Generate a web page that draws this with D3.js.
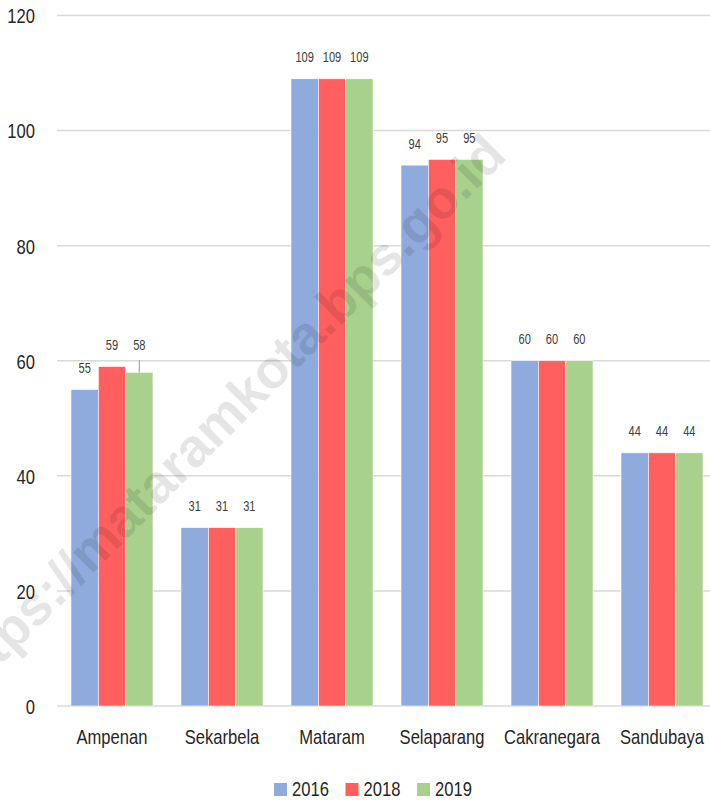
<!DOCTYPE html>
<html>
<head>
<meta charset="utf-8">
<script src="https://cdn.jsdelivr.net/npm/d3@7"></script>
<style>
  html, body { margin: 0; padding: 0; background: #fff; }
  svg { display: block; }
  text { font-family: "Liberation Sans", Arial, sans-serif; fill: #404040; }
</style>
</head>
<body>
<svg id="chart" width="710" height="801"></svg>
<script>
const categories = ["Ampenan", "Sekarbela", "Mataram", "Selaparang", "Cakranegara", "Sandubaya"];
const seriesNames = ["2016", "2018", "2019"];
const values2016 = [55, 31, 109, 94, 60, 44];
const values2018 = [59, 31, 109, 95, 60, 44];
const values2019 = [58, 31, 109, 95, 60, 44];
const seriesColors = ["#8faadc", "#ff5f5f", "#a9d18e"];
const yTicks = [0, 20, 40, 60, 80, 100, 120];
// label raised to avoid overlap: [category index, series index, value level of label]
const raisedLabels = [[0, 2, 59]];
const watermark = "https://mataramkota.bps.go.id";

const seriesValues = [values2016, values2018, values2019];

(function () {
const svg = d3.select("#chart");
const mLeft = 57, mRight = 710, mTop = 15.5, mBottom = 706;
const squeeze = 0.79;

function condense(sel) {
  sel.each(function () {
    const w = this.getComputedTextLength();
    d3.select(this).attr("textLength", w * squeeze).attr("lengthAdjust", "spacingAndGlyphs");
  });
}

const y = d3.scaleLinear().domain([0, 120]).range([mBottom, mTop]);
const x0 = d3.scaleBand().domain(categories).range([mLeft, mLeft + 660]).paddingInner(0.2545).paddingOuter(0.127);
const x1 = d3.scaleBand().domain(seriesNames).range([0, x0.bandwidth()]);

// gridlines
svg.append("g").selectAll("line").data(yTicks).join("line")
  .attr("x1", mLeft).attr("x2", mRight)
  .attr("y1", d => y(d)).attr("y2", d => y(d))
  .attr("stroke", "#d9d9d9").attr("stroke-width", 1.5);

// y tick labels
const yAxis = d3.axisLeft(y).tickValues(yTicks).tickSize(0).tickPadding(0);
const ga = svg.append("g").attr("transform", `translate(35,0)`).call(yAxis);
ga.select(".domain").remove();
ga.attr("font-family", null).attr("font-size", null);
ga.selectAll("text").attr("font-size", 21).style("fill", "#262626").attr("dy", "0.35em")
  .call(condense);

// bars
const groups = svg.append("g").selectAll("g").data(categories).join("g")
  .attr("transform", d => `translate(${x0(d)},0)`);

const rowData = (c, ci) => seriesNames.map((s, si) => ({ s, si, ci, v: seriesValues[si][ci] }));

groups.selectAll("rect").data(rowData)
  .join("rect")
  .attr("x", d => x1(d.s)).attr("width", x1.bandwidth())
  .attr("y", d => y(d.v)).attr("height", d => y(0) - y(d.v))
  .attr("fill", d => seriesColors[d.si])
  .attr("stroke", "#fff").attr("stroke-width", 0.6);

// data labels
const labelOffset = 16.5;
groups.selectAll("g.lbl").data(rowData)
  .join("g").attr("class", "lbl")
  .each(function(d) {
    const g = d3.select(this);
    const cx = x1(d.s) + x1.bandwidth() / 2;
    const raised = raisedLabels.find(r => r[0] === d.ci && r[1] === d.si);
    const level = raised ? raised[2] : d.v;
    const by = y(level) - labelOffset;
    if (raised) {
      g.append("line").attr("x1", cx).attr("x2", cx)
        .attr("y1", by + 10).attr("y2", y(d.v))
        .attr("stroke", "#a6a6a6").attr("stroke-width", 1.2);
    }
    g.append("text").attr("x", cx).attr("y", by)
      .attr("text-anchor", "middle").attr("font-size", 14).text(d.v)
      .call(condense);
  });

// category labels
svg.append("g").selectAll("text").data(categories).join("text")
  .attr("x", d => x0(d) + x0.bandwidth() / 2).attr("y", 744)
  .attr("text-anchor", "middle").attr("font-size", 21).style("fill", "#262626").text(d => d)
  .call(condense);

// legend
const legend = svg.append("g").selectAll("g").data(seriesNames).join("g")
  .attr("transform", (d, i) => `translate(${274 + i * 71.5},0)`);
legend.append("rect").attr("x", 0).attr("y", 783).attr("width", 13).attr("height", 13)
  .attr("fill", (d, i) => seriesColors[i]);
legend.append("text").attr("x", 18).attr("y", 796).attr("font-size", 21).style("fill", "#262626").text(d => d)
  .call(condense);

// watermark
svg.append("text")
  .attr("transform", "translate(236,430) rotate(-45)")
  .attr("text-anchor", "middle")
  .attr("font-weight", "bold").attr("font-size", 54)
  .style("fill", "#000").attr("fill-opacity", 0.1)
  .text(watermark);
})();
</script>
</body>
</html>
